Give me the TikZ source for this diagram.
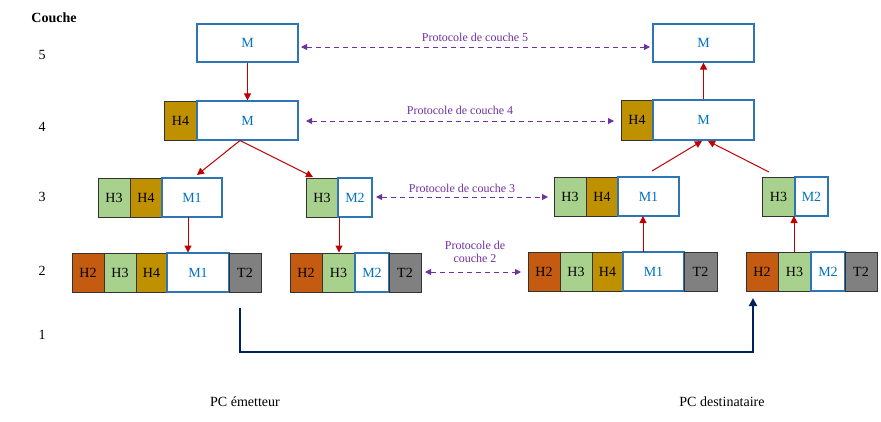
\documentclass[tikz,border=0pt]{standalone}
\usepackage{fontspec}
\setmainfont{Liberation Serif}
\usetikzlibrary{arrows.meta,calc}
\definecolor{ch2}{HTML}{C55A11}\definecolor{ch3}{HTML}{A9D18E}\definecolor{ch4}{HTML}{BF9000}
\definecolor{ct2}{HTML}{808080}\definecolor{mb}{HTML}{2E75B6}\definecolor{mt}{HTML}{0070C0}
\definecolor{pu}{HTML}{7030A0}\definecolor{rd}{HTML}{C00000}\definecolor{nv}{HTML}{002060}
\begin{document}
\begin{tikzpicture}[x=1pt,y=-1pt,
 bx/.style={draw=black!80,line width=0.8pt,inner sep=0,font=\fontsize{14}{14}\selectfont},
 msg/.style={draw=mb,line width=1.2pt,fill=white,inner sep=0,text=mt,font=\fontsize{14}{14}\selectfont},
 ra/.style={draw=rd,line width=1pt,-{Triangle[length=7pt,width=7pt]}},
 pa/.style={draw=pu,line width=1pt,dash pattern=on 5pt off 4pt,{Triangle[length=6pt,width=6pt]}-{Triangle[length=6pt,width=6pt]}},
 pl/.style={text=pu,font=\fontsize{12}{13}\selectfont,align=center},
 lab/.style={font=\fontsize{14}{14}\selectfont}]
\useasboundingbox (0,0) rectangle (881,421);
% layer 5
\node[msg,minimum width=101,minimum height=38] (L5) at (247.5,43) {M};
\node[msg,minimum width=101,minimum height=38] (R5) at (703.5,43) {M};
% layer 4
\node[bx,fill=ch4,minimum width=33,minimum height=39] (L4h) at (180.5,120.5) {H4};
\node[msg,minimum width=101,minimum height=39] (L4) at (247.5,120.5) {M};
\node[bx,fill=ch4,minimum width=32,minimum height=40] (R4h) at (637,120) {H4};
\node[msg,minimum width=101,minimum height=40] (R4) at (703.5,120) {M};
% layer 3
\node[bx,fill=ch3,minimum width=32,minimum height=39] (a3) at (114,197.5) {H3};
\node[bx,fill=ch4,minimum width=32,minimum height=39] (a4) at (146,197.5) {H4};
\node[msg,minimum width=60,minimum height=39] (aM) at (192,197.5) {M1};
\node[bx,fill=ch3,minimum width=32,minimum height=39] (b3) at (322,197.5) {H3};
\node[msg,minimum width=34,minimum height=39] (bM) at (355,197.5) {M2};
\node[bx,fill=ch3,minimum width=32,minimum height=39] (c3) at (570,196.5) {H3};
\node[bx,fill=ch4,minimum width=32,minimum height=39] (c4) at (602,196.5) {H4};
\node[msg,minimum width=61,minimum height=39] (cM) at (648.5,196.5) {M1};
\node[bx,fill=ch3,minimum width=33,minimum height=39] (d3) at (778.5,196.5) {H3};
\node[msg,minimum width=33,minimum height=39] (dM) at (811.5,196.5) {M2};
% layer 2
\node[bx,fill=ch2,minimum width=32,minimum height=39] (e2) at (88,272.5) {H2};
\node[bx,fill=ch3,minimum width=32,minimum height=39] (e3) at (120,272.5) {H3};
\node[bx,fill=ch4,minimum width=31,minimum height=39] (e4) at (151.5,272.5) {H4};
\node[msg,minimum width=62,minimum height=39] (eM) at (198,272.5) {M1};
\node[bx,fill=ct2,minimum width=32,minimum height=39] (eT) at (245,272.5) {T2};
\node[bx,fill=ch2,minimum width=32,minimum height=39] (f2) at (306,272.5) {H2};
\node[bx,fill=ch3,minimum width=33,minimum height=39] (f3) at (338.5,272.5) {H3};
\node[msg,minimum width=34,minimum height=39] (fM) at (372,272.5) {M2};
\node[bx,fill=ct2,minimum width=32,minimum height=39] (fT) at (405,272.5) {T2};
\node[bx,fill=ch2,minimum width=32,minimum height=39] (g2) at (544,271.5) {H2};
\node[bx,fill=ch3,minimum width=32,minimum height=39] (g3) at (576,271.5) {H3};
\node[bx,fill=ch4,minimum width=31,minimum height=39] (g4) at (607.5,271.5) {H4};
\node[msg,minimum width=61,minimum height=39] (gM) at (653.5,271.5) {M1};
\node[bx,fill=ct2,minimum width=33,minimum height=39] (gT) at (700.5,271.5) {T2};
\node[bx,fill=ch2,minimum width=32,minimum height=39] (h2) at (762,271.5) {H2};
\node[bx,fill=ch3,minimum width=33,minimum height=39] (h3) at (794.5,271.5) {H3};
\node[msg,minimum width=34,minimum height=39] (hM) at (828,271.5) {M2};
\node[bx,fill=ct2,minimum width=32,minimum height=39] (hT) at (861,271.5) {T2};
% red arrows
\coordinate (ls) at (240,140.5);
\coordinate (rt) at (705,145);
\draw[ra] (L5.south) -- (L4.north);
\draw[ra] (ls) -- (197,175);
\draw[ra] (ls) -- (313,177);
\draw[ra] (188,217) -- (188,252.5);
\draw[ra] (339,217) -- (339,252.5);
\draw[ra] (643,252) -- (643,216);
\draw[ra] (794,252) -- (794,216);
\draw[ra] (652,171) -- (702,141);
\draw[ra] (769,172) -- (708,141);
\draw[ra] (R4.north) -- (R5.south);
% protocol arrows
\draw[pa] (301,47) -- (650,47);
\node[pl] (p5) at (475,37) {Protocole de couche 5};
\draw[pa] (306,121) -- (614,121);
\node[pl] (p4) at (460,110) {Protocole de couche 4};
\draw[pa] (376,197) -- (548,197);
\node[pl] (p3) at (462,188) {Protocole de couche 3};
\draw[pa] (425,272) -- (521,272);
\node[pl] (p2) at (475,252) {Protocole de\\couche 2};
% physical link
\coordinate (s1) at (240,308);
\coordinate (s2) at (753,298);
\draw[nv,line width=2.5pt,-{Triangle[length=8pt,width=8pt]}] (s1) |- (497,352) -| (s2);
% labels
\node[lab,font=\bfseries\fontsize{14}{14}\selectfont] (cc) at (54,18) {Couche};
\node[lab] (n5) at (42,55) {5};
\node[lab] (n4) at (42,127) {4};
\node[lab] (n3) at (42,197) {3};
\node[lab] (n2) at (42,271) {2};
\node[lab] (n1) at (42,335) {1};
\node[lab] (pe) at (245,402) {PC émetteur};
\node[lab] (pd) at (722,402) {PC destinataire};
\end{tikzpicture}
\end{document}
